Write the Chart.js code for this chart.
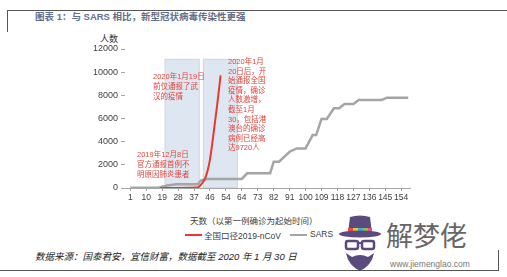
<!DOCTYPE html>
<html>
<head>
<meta charset="utf-8">
<script src="https://cdn.jsdelivr.net/npm/chart.js@4.4.0/dist/chart.umd.min.js"></script>
<style>
  body { margin: 0; background: #fff; width: 507px; height: 277px; position: relative; overflow: hidden;
         font-family: "Liberation Sans", "Noto Sans CJK SC", sans-serif; }
  .abs { position: absolute; white-space: nowrap; }
  .line { position: absolute; background: #555; }
  .title { left: 35px; top: 9px; font-size: 9.5px; font-weight: bold; color: #5f6f8c; }
  .note { position: absolute; color: #e0463c; font-size: 7.5px; line-height: 10px; white-space: nowrap; }
  .src { left: 35px; top: 249px; font-size: 9.5px; font-style: italic; color: #222; }
  #wrap { position: absolute; left: 85px; top: 40px; width: 330px; height: 168px; }
</style>
</head>
<body>
<div class="line" style="left:7px;top:10px;width:500px;height:1px"></div>
<div class="line" style="left:7px;top:10px;width:1px;height:22px"></div>
<div class="line" style="left:0;top:270px;width:499px;height:1px"></div>
<div class="line" style="left:498px;top:250px;width:1px;height:21px"></div>

<div class="abs title">图表 1：与 SARS 相比，新型冠状病毒传染性更强</div>
<div class="abs" style="left:100px;top:32px;font-size:9px;color:#333">人数</div>

<div id="wrap"><canvas id="chart"></canvas></div>

<div class="note" style="left:153px;top:72px">2020年1月19日<br>前仅通报了武<br>汉的疫情</div>
<div class="note" style="left:137px;top:150px">2019年12月8日<br>官方通报首例不<br>明原因肺炎患者</div>
<div class="note" style="left:228px;top:57px;line-height:9.6px">2020年1月<br>20日后，开<br>始通报全国<br>疫情，确诊<br>人数激增，<br>截至1月<br>30，包括港<br>澳台的确诊<br>病例已经高<br>达9720人</div>

<div class="abs" style="left:190px;top:214px;font-size:8.5px;color:#404040">天数（以第一例确诊为起始时间）</div>
<div class="abs" style="left:185px;top:234px;width:17px;height:2px;background:#e53a30"></div>
<div class="abs" style="left:204px;top:229px;font-size:8.5px;color:#404040">全国口径2019-nCoV</div>
<div class="abs" style="left:290px;top:234px;width:17px;height:2px;background:#a5a5a5"></div>
<div class="abs" style="left:310px;top:229px;font-size:8.5px;color:#404040">SARS</div>

<div class="abs src">数据来源：国泰君安，宜信财富，数据截至 2020 年 1 月 30 日</div>

<svg class="abs" style="left:338px;top:213px" width="44" height="60" viewBox="0 0 44 60">
  <path d="M12 4 Q22 1 32 4 L34 20 L10 20 Z" fill="#5b4a7e"/>
  <rect x="10" y="15" width="5" height="5" fill="#e94e3c"/>
  <rect x="15" y="15" width="5" height="5" fill="#f4c430"/>
  <rect x="20" y="15" width="5" height="5" fill="#3cb7c9"/>
  <rect x="25" y="15" width="5" height="5" fill="#8bc34a"/>
  <rect x="30" y="15" width="4" height="5" fill="#e94e7c"/>
  <ellipse cx="22" cy="21" rx="21" ry="3.5" fill="#5b4a7e"/>
  <rect x="8" y="28" width="12" height="8" rx="2" fill="none" stroke="#5b4a7e" stroke-width="2.5"/>
  <rect x="24" y="28" width="12" height="8" rx="2" fill="none" stroke="#5b4a7e" stroke-width="2.5"/>
  <line x1="20" y1="30" x2="24" y2="30" stroke="#5b4a7e" stroke-width="2"/>
  <path d="M8 40 Q10 52 22 58 Q34 52 36 40 L30 44 Q22 40 14 44 Z" fill="#5b4a7e"/>
</svg>
<div class="abs" style="left:386px;top:215px;font-size:27px;color:#666;font-family:'Noto Sans CJK SC',sans-serif">解梦佬</div>
<div class="abs" style="left:390px;top:259px;font-size:8.5px;color:#777">www.jiemenglao.com</div>

<script>
// x = days since first confirmed case
const NCOV_DAYS = [18, 39, 40, 41, 42, 43, 44, 45, 46, 47, 48, 49, 50, 51, 52];
const NCOV_VALUES = [0, 40, 150, 300, 500, 750, 1150, 1700, 2450, 3500, 4700, 5900, 7100, 8400, 9720];

const SARS_DAYS = [1, 17, 19, 22, 27, 39, 41, 44, 64, 67, 80, 82, 85, 91, 95, 100, 104, 106, 109, 112, 116, 119, 122, 127, 130, 143, 146, 158];
const SARS_VALUES = [20, 20, 120, 220, 320, 320, 650, 780, 780, 1270, 1270, 2270, 2270, 3130, 3420, 3420, 4570, 4570, 5960, 5960, 6880, 6880, 7250, 7250, 7600, 7600, 7800, 7800];

const TICK_DAYS = [1, 10, 19, 28, 37, 46, 55, 64, 73, 82, 91, 100, 109, 118, 127, 136, 145, 154];
const TICK_LABELS = ['1', '10', '19', '28', '37', '46', '54', '64', '73', '82', '91', '100', '109', '118', '127', '136', '145', '154'];

// shaded periods (in days) behind the lines
const SHADE_FROM = [20.4, 42];
const SHADE_TO = [40.2, 61.8];
const SHADE_TOP = 11150;

const TICK_COLOR = '#404040';
const AXIS_COLOR = '#a6a6a6';

const shadePlugin = {
  id: 'shade',
  beforeDatasetsDraw(chart) {
    const { ctx, scales: { x, y } } = chart;
    ctx.save();
    SHADE_FROM.forEach((from, i) => {
      const l = x.getPixelForValue(from), r = x.getPixelForValue(SHADE_TO[i]);
      const t = y.getPixelForValue(SHADE_TOP), b = y.getPixelForValue(0);
      ctx.fillStyle = 'rgba(214,224,237,0.8)';
      ctx.fillRect(l, t, r - l, b - t);
      ctx.strokeStyle = '#cfd9e6';
      ctx.lineWidth = 1;
      ctx.strokeRect(l + 0.5, t + 0.5, r - l - 1, b - t - 1);
    });
    ctx.restore();
  }
};

new Chart(document.getElementById('chart'), {
  type: 'line',
  data: {
    datasets: [
      {
        label: '全国口径2019-nCoV',
        data: NCOV_DAYS.map((d, i) => ({ x: d, y: NCOV_VALUES[i] })),
        borderColor: '#e53a30',
        borderWidth: 2,
        pointRadius: 0,
        cubicInterpolationMode: 'monotone'
      },
      {
        label: 'SARS',
        data: SARS_DAYS.map((d, i) => ({ x: d, y: SARS_VALUES[i] })),
        borderColor: '#a5a5a5',
        borderWidth: 2.5,
        pointRadius: 0,
        tension: 0
      }
    ]
  },
  options: {
    responsive: true,
    maintainAspectRatio: false,
    animation: false,
    layout: { padding: { top: 9, right: 5, left: 0, bottom: 0 } },
    plugins: { legend: { display: false }, tooltip: { enabled: false } },
    scales: {
      x: {
        type: 'linear', min: -2, max: 159,
        afterBuildTicks: s => { s.ticks = TICK_DAYS.map(v => ({ value: v })); },
        afterFit: s => { s.height = 20; },
        ticks: {
          autoSkip: false, maxRotation: 0, padding: 2,
          color: TICK_COLOR, font: { size: 8.5, family: 'Liberation Sans' },
          callback: (v, i) => TICK_LABELS[i]
        },
        grid: { drawOnChartArea: false, tickLength: 3, color: AXIS_COLOR },
        border: { color: AXIS_COLOR }
      },
      y: {
        min: 0, max: 12000,
        afterFit: s => { s.width = 40; },
        ticks: { stepSize: 2000, padding: 3, color: TICK_COLOR, font: { size: 9, family: 'Liberation Sans' },
                 callback: v => String(v) },
        grid: { drawOnChartArea: false, tickLength: 4, color: AXIS_COLOR },
        border: { display: false }
      }
    }
  },
  plugins: [shadePlugin]
});
</script>
</body>
</html>
